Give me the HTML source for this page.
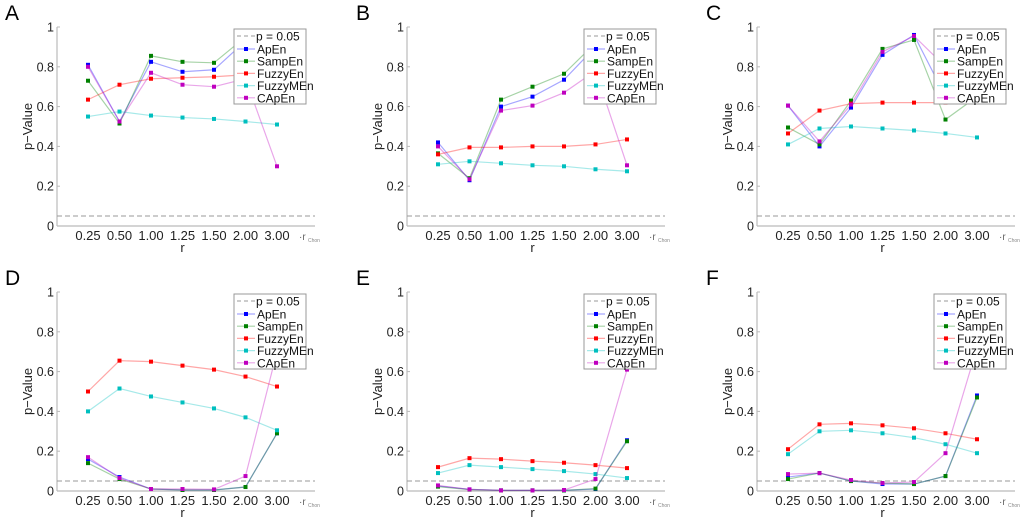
<!DOCTYPE html>
<html><head><meta charset="utf-8">
<style>
html,body{margin:0;padding:0;background:#fff;}
svg{display:block;font-family:"Liberation Sans",Arial,sans-serif;}
</style></head>
<body>
<svg id="chart" width="1024" height="519" viewBox="0 0 1024 519"></svg>
<script>
const categories = ["0.25","0.50","1.00","1.25","1.50","2.00","3.00"];
const yTicks = [0,0.2,0.4,0.6,0.8,1];
const yTickLabels = ["0","0.2","0.4","0.6","0.8","1"];
const seriesNames = ["ApEn","SampEn","FuzzyEn","FuzzyMEn","CApEn"];
const threshold = 0.05;
const panelLabels = ["A","B","C","D","E","F"];

const A_ApEn = [0.81,0.525,0.825,0.775,0.785,0.93,0.95];
const A_SampEn = [0.73,0.515,0.855,0.825,0.82,0.95,0.97];
const A_FuzzyEn = [0.635,0.71,0.74,0.745,0.75,0.76,0.78];
const A_FuzzyMEn = [0.55,0.575,0.555,0.545,0.538,0.525,0.51];
const A_CApEn = [0.80,0.525,0.77,0.71,0.70,0.74,0.30];

const B_ApEn = [0.42,0.23,0.60,0.65,0.735,0.90,0.95];
const B_SampEn = [0.365,0.24,0.635,0.70,0.765,0.92,0.96];
const B_FuzzyEn = [0.36,0.395,0.395,0.40,0.40,0.41,0.435];
const B_FuzzyMEn = [0.31,0.325,0.315,0.305,0.30,0.285,0.275];
const B_CApEn = [0.40,0.235,0.58,0.605,0.67,0.78,0.305];

const C_ApEn = [0.605,0.40,0.595,0.86,0.96,0.65,0.70];
const C_SampEn = [0.495,0.41,0.63,0.89,0.935,0.535,0.65];
const C_FuzzyEn = [0.465,0.58,0.615,0.62,0.62,0.62,0.63];
const C_FuzzyMEn = [0.41,0.49,0.50,0.49,0.48,0.465,0.445];
const C_CApEn = [0.605,0.425,0.61,0.875,0.955,0.80,0.75];

const D_ApEn = [0.16,0.07,0.01,0.005,0.005,0.02,0.29];
const D_SampEn = [0.14,0.06,0.01,0.005,0.005,0.02,0.29];
const D_FuzzyEn = [0.50,0.655,0.65,0.63,0.61,0.575,0.525];
const D_FuzzyMEn = [0.40,0.515,0.475,0.445,0.415,0.37,0.305];
const D_CApEn = [0.17,0.065,0.01,0.01,0.008,0.075,0.70];

const E_ApEn = [0.025,0.008,0.003,0.003,0.003,0.01,0.255];
const E_SampEn = [0.022,0.007,0.003,0.003,0.003,0.012,0.25];
const E_FuzzyEn = [0.12,0.165,0.16,0.15,0.142,0.13,0.115];
const E_FuzzyMEn = [0.09,0.13,0.12,0.11,0.10,0.085,0.065];
const E_CApEn = [0.028,0.008,0.003,0.003,0.005,0.06,0.61];

const F_ApEn = [0.07,0.09,0.05,0.035,0.035,0.075,0.48];
const F_SampEn = [0.06,0.09,0.05,0.04,0.035,0.075,0.47];
const F_FuzzyEn = [0.21,0.335,0.34,0.33,0.315,0.29,0.26];
const F_FuzzyMEn = [0.185,0.30,0.305,0.29,0.268,0.235,0.19];
const F_CApEn = [0.085,0.09,0.055,0.04,0.045,0.19,0.72];

const panelData = [
 [A_ApEn,A_SampEn,A_FuzzyEn,A_FuzzyMEn,A_CApEn],
 [B_ApEn,B_SampEn,B_FuzzyEn,B_FuzzyMEn,B_CApEn],
 [C_ApEn,C_SampEn,C_FuzzyEn,C_FuzzyMEn,C_CApEn],
 [D_ApEn,D_SampEn,D_FuzzyEn,D_FuzzyMEn,D_CApEn],
 [E_ApEn,E_SampEn,E_FuzzyEn,E_FuzzyMEn,E_CApEn],
 [F_ApEn,F_SampEn,F_FuzzyEn,F_FuzzyMEn,F_CApEn]
];

const colors = ["#0000ff","#008000","#ff0000","#00bfbf","#bf00bf"];
const NS = "http://www.w3.org/2000/svg";
const svg = document.getElementById("chart");
function mk(tag, attrs, parent, text){
  const e = document.createElementNS(NS, tag);
  for (const k in attrs) e.setAttribute(k, attrs[k]);
  if (text !== undefined) e.textContent = text;
  (parent||svg).appendChild(e);
  return e;
}

panelData.forEach((series, p) => {
  const L = [57,407,757][p%3];
  const T = p<3 ? 27 : 292;
  const H = 199;
  const B = T + H;
  const W = 258;
  const xs = i => L + 31 + 31.5*i;
  const ys = v => B - v*H;
  const g = mk("g", {}, svg);
  
  

  const lab = mk("text", {x: p%3===0?5:(L-51), y: T-7, "font-size": 21, fill:"#000"}, g, panelLabels[p]);
  
  

  const ya = mk("line", {x1:L, y1:T, x2:L, y2:B, stroke:"#bbb", "stroke-width":1.2}, g);
  
  
  const xa = mk("line", {x1:L, y1:B, x2:L+W, y2:B, stroke:"#bbb", "stroke-width":1.2}, g);
  
  

  yTicks.forEach((t, k) => {
    mk("line", {x1:L, y1:ys(t), x2:L+3, y2:ys(t), stroke:"#bbb"}, g);
    const tl = mk("text", {x:L-3, y:ys(t)+4.5, "font-size":12.5, "text-anchor":"end", fill:"#222"}, g, yTickLabels[k]);
    
    
  });
  categories.forEach((c, i) => {
    const tl = mk("text", {x:xs(i), y:B+14, "font-size":13, "text-anchor":"middle", fill:"#222"}, g, c);
    
    
  });
  const rc = mk("text", {x:L+242, y:B+14, "font-size":10, fill:"#666"}, g, "·r");
  
  
  mk("text", {x:L+251, y:B+16, "font-size":5, fill:"#888"}, g, "Chon");
  const xt = mk("text", {x:xs(3), y:B+26, "font-size":13, "text-anchor":"middle", fill:"#222"}, g, "r");
  
  
  const yt = mk("text", {x:0, y:0, "font-size":13, "text-anchor":"middle", fill:"#222", transform:`translate(${L-25},${T+H/2}) rotate(-90)`}, g, "p\u2212Value");
  
  

  const th = mk("line", {x1:L, y1:ys(threshold), x2:L+W, y2:ys(threshold), stroke:"#999", "stroke-dasharray":"5,3", "stroke-width":1}, g);
  
  

  series.forEach((vals, s) => {
    const pts = vals.map((v,i)=>xs(i)+","+ys(v)).join(" ");
    const pl = mk("polyline", {points:pts, fill:"none", stroke:colors[s], "stroke-opacity":0.35, "stroke-width":1.2}, g);
    
    
    vals.forEach((v,i) => {
      const r = mk("rect", {x:xs(i)-2, y:ys(v)-2, width:4, height:4, fill:colors[s]}, g);
      
      
    });
  });

  const lx = L+177, ly = T+2;
  const lg = mk("g", {}, g);
  
  
  mk("rect", {x:lx, y:ly, width:72, height:75, fill:"#fff", stroke:"#999", "stroke-width":1}, lg);
  mk("line", {x1:lx+3, y1:ly+7, x2:lx+21, y2:ly+7, stroke:"#999", "stroke-dasharray":"4,3"}, lg);
  const lt = mk("text", {x:lx+22, y:ly+11.5, "font-size":12, fill:"#111"}, lg, "p = 0.05");
  
  
  seriesNames.forEach((n, s) => {
    const yy = ly + 20 + s*12.2;
    mk("line", {x1:lx+3, y1:yy, x2:lx+21, y2:yy, stroke:colors[s], "stroke-opacity":0.35, "stroke-width":1.2}, lg);
    mk("rect", {x:lx+10, y:yy-2, width:4, height:4, fill:colors[s]}, lg);
    const t = mk("text", {x:lx+23, y:yy+4.5, "font-size":12, fill:"#111"}, lg, n);
    
    
  });
});
</script>
</body></html>
